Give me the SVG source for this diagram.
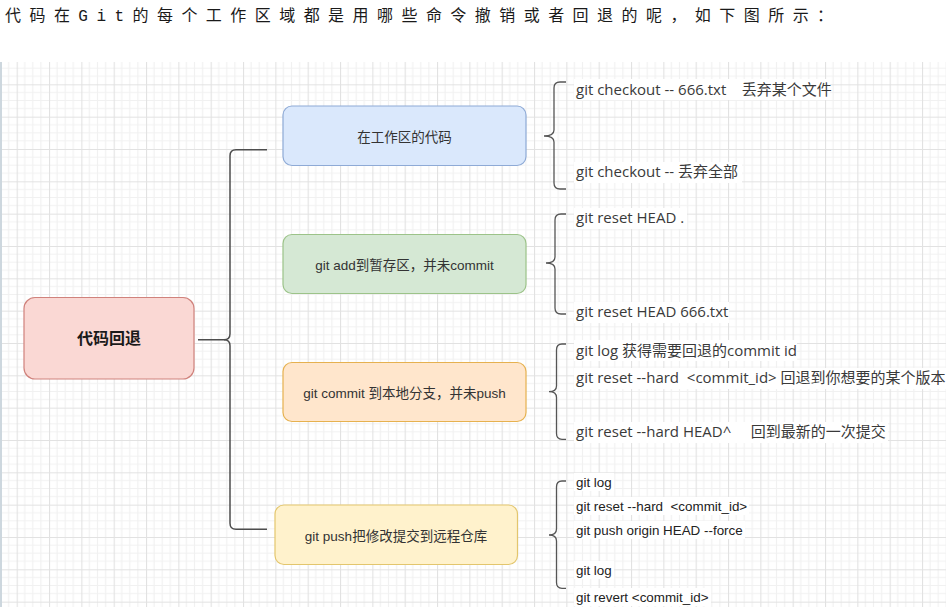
<svg xmlns="http://www.w3.org/2000/svg" width="946" height="607" viewBox="0 0 946 607">
  <defs>
    <!-- drawing-canvas grid: minor 8.08px, major every 4 cells -->
    <pattern id="grid" patternUnits="userSpaceOnUse" x="16.67" y="19.67" width="32.333" height="32.333">
      <path d="M8.083 0V32.333M16.167 0V32.333M24.25 0V32.333M0 8.083H32.333M0 16.167H32.333M0 24.25H32.333" fill="none" stroke="#f1f1f1" stroke-width="1.2"/>
      <path d="M0.5 0V32.333M0 0.5H32.333" fill="none" stroke="#e2e2e2" stroke-width="1.2"/>
    </pattern>
    <style>
      .title { font-family: "Liberation Mono", "Noto Sans CJK SC", monospace; font-size: 16px; letter-spacing: 8.45px; fill: #1a1a1a; }
      .node rect { stroke-width: 1.2; }
      .label { font-family: "Liberation Sans", "Noto Sans CJK SC", sans-serif; font-size: 13.5px; fill: #333; text-anchor: middle; }
      .root-label { font-family: "Liberation Sans", "Noto Sans CJK SC", sans-serif; font-size: 16px; font-weight: bold; fill: #1a1a1a; text-anchor: middle; }
      .cmd { font-family: "Open Sans", "Noto Sans CJK SC", sans-serif; font-size: 15px; fill: #3a3a3a; }
      .cmd-sm { font-family: "Liberation Sans", "Noto Sans CJK SC", sans-serif; font-size: 13.4px; fill: #222; }
      .bg { fill: #ffffff; }
      .trunk { fill: none; stroke: #4d4d4d; stroke-width: 1.5; }
      .brace { fill: none; stroke: #555; stroke-width: 1.3; }
    </style>
  </defs>

  <!-- page -->
  <rect width="946" height="607" fill="#ffffff"/>
  <rect x="0" y="62" width="946" height="545" fill="url(#grid)"/>
  <rect x="0" y="62" width="2" height="545" fill="#cdd7de"/>

  <!-- heading line -->
  <text class="title" x="5" y="21">代码在Git的每个工作区域都是用哪些命令撤销或者回退的呢，如下图所示：</text>

  <!-- connectors -->
  <g id="connectors">
    <path class="trunk" d="M198 339.7H224Q230 339.7 230 333.7V155.7Q230 149.7 236 149.7H267"/>
    <path class="trunk" d="M224 339.7Q230 339.7 230 345.7V523.3Q230 529.3 236 529.3H267"/>
    <path class="brace" d="M566 82H560Q554 82 554 88V130Q554 136 544 136Q554 136 554 142V183Q554 189 560 189H566"/>
    <path class="brace" d="M566 214H561Q555 214 555 220V257Q555 263 546 263Q555 263 555 269V308Q555 314 561 314H566"/>
    <path class="brace" d="M566 344H562Q556.5 344 556.5 350V386Q556.5 391.7 549 391.7Q556.5 391.7 556.5 397.5V433.5Q556.5 439.3 562 439.3H566"/>
    <path class="brace" d="M566 481H562Q556.5 481 556.5 487V529Q556.5 535 549 535Q556.5 535 556.5 541V582.5Q556.5 588.3 562 588.3H566"/>
  </g>

  <!-- central topic -->
  <g id="root" class="node">
    <rect x="24" y="297.5" width="170" height="81.5" rx="11" fill="#fad8d4" stroke="#d0827c"/>
    <text class="root-label" x="109" y="344">代码回退</text>
  </g>

  <!-- stages -->
  <g id="stage-workdir" class="node">
    <rect x="283" y="106" width="243" height="59.5" rx="9" fill="#dae8fc" stroke="#8eaad6"/>
    <text class="label" x="404.5" y="141.5">在工作区的代码</text>
  </g>
  <g id="stage-index" class="node">
    <rect x="283" y="234.5" width="243" height="59" rx="9" fill="#d5e8d4" stroke="#9cc389"/>
    <text class="label" x="404.5" y="270">git add到暂存区，并未commit</text>
  </g>
  <g id="stage-local" class="node">
    <rect x="283" y="362.5" width="243" height="59" rx="9" fill="#ffe6cc" stroke="#e6b14f"/>
    <text class="label" x="404.5" y="398">git commit 到本地分支，并未push</text>
  </g>
  <g id="stage-remote" class="node">
    <rect x="275" y="505" width="242.5" height="59.5" rx="9" fill="#fff2cc" stroke="#e3c66d"/>
    <text class="label" x="396" y="540.5">git push把修改提交到远程仓库</text>
  </g>

  <!-- commands: working directory -->
  <g id="cmd-workdir">
    <rect class="bg" x="574" y="79" width="256" height="21"/>
    <text class="cmd" x="576" y="94.5" xml:space="preserve">git checkout -- 666.txt    丢弃某个文件</text>
    <rect class="bg" x="574" y="162" width="168" height="21"/>
    <text class="cmd" x="576" y="177.3">git checkout -- 丢弃全部</text>
  </g>

  <!-- commands: staging area -->
  <g id="cmd-index">
    <rect class="bg" x="574" y="208" width="113" height="21"/>
    <text class="cmd" x="576" y="223.3">git reset HEAD .</text>
    <rect class="bg" x="574" y="302" width="155" height="21"/>
    <text class="cmd" x="576" y="317.3">git reset HEAD 666.txt</text>
  </g>

  <!-- commands: local branch -->
  <g id="cmd-local">
    <rect class="bg" x="574" y="340" width="223" height="21"/>
    <text class="cmd" x="576" y="355.7">git log 获得需要回退的commit id</text>
    <rect class="bg" x="574" y="368" width="372" height="21"/>
    <text class="cmd" x="576" y="383.3" xml:space="preserve">git reset --hard  &lt;commit_id&gt; 回退到你想要的某个版本</text>
    <rect class="bg" x="574" y="422" width="314" height="21"/>
    <text class="cmd" x="576" y="437.3" xml:space="preserve">git reset --hard HEAD^     回到最新的一次提交</text>
  </g>

  <!-- commands: remote repository -->
  <g id="cmd-remote">
    <rect class="bg" x="574" y="473" width="40" height="18"/>
    <text class="cmd-sm" x="576" y="486.7">git log</text>
    <rect class="bg" x="574" y="497" width="175" height="18"/>
    <text class="cmd-sm" x="576" y="510.7" xml:space="preserve">git reset --hard  &lt;commit_id&gt;</text>
    <rect class="bg" x="574" y="521" width="171" height="18"/>
    <text class="cmd-sm" x="576" y="534.7">git push origin HEAD --force</text>
    <rect class="bg" x="574" y="561" width="40" height="18"/>
    <text class="cmd-sm" x="576" y="575">git log</text>
    <rect class="bg" x="574" y="588" width="137" height="18"/>
    <text class="cmd-sm" x="576" y="601.7">git revert &lt;commit_id&gt;</text>
  </g>
</svg>
